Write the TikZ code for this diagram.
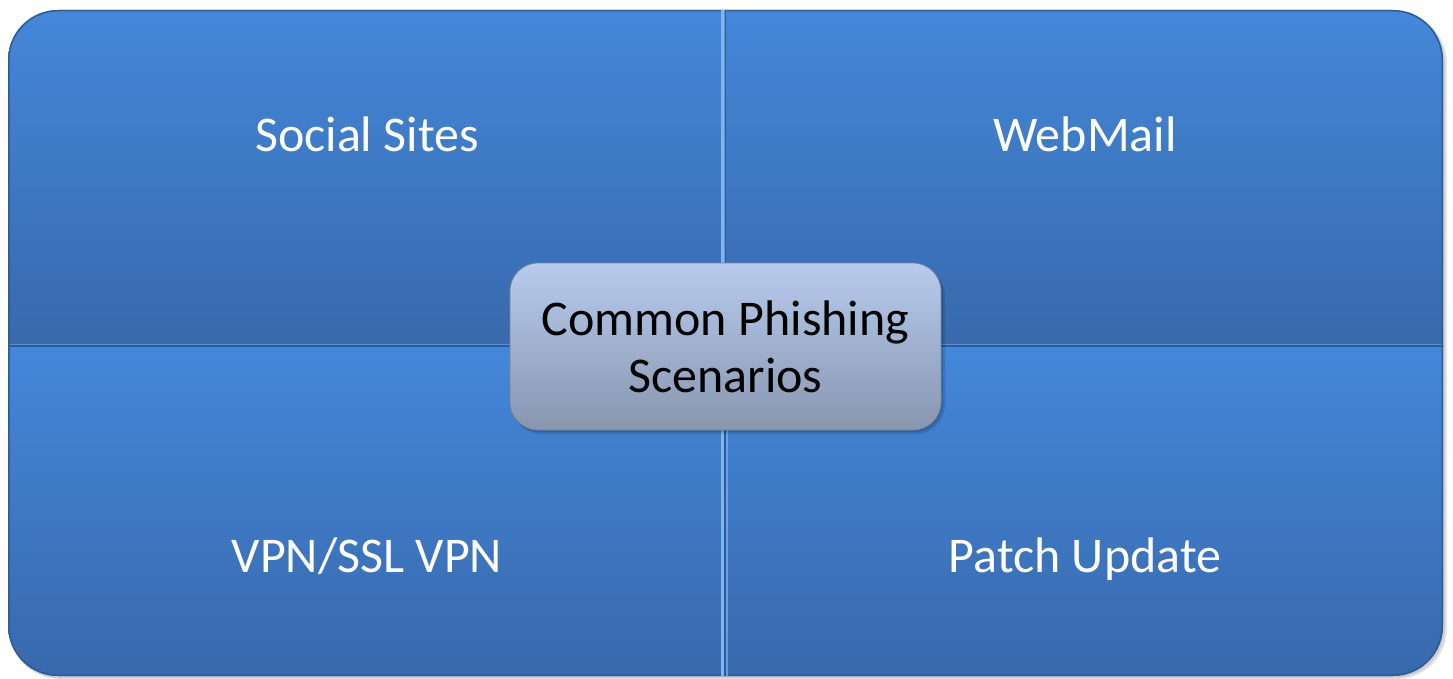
\documentclass[tikz,border=0pt]{standalone}
\usepackage{fontspec}
\setmainfont{Carlito}
\definecolor{qtop}{HTML}{4487D9}
\definecolor{qbot}{HTML}{3869AC}
\definecolor{qedge}{HTML}{2E5A96}
\definecolor{qlight}{HTML}{7DB4F2}
\definecolor{ctop}{HTML}{B7CBEE}
\definecolor{cbot}{HTML}{8896AF}
\definecolor{cedge}{HTML}{76839C}
\tikzset{
  quad/.style={rectangle, inner sep=0pt, outer sep=0pt, top color=qtop, bottom color=qbot, draw=none},
  qlabel/.style={text=white, font=\fontsize{50}{60}\selectfont, anchor=base, inner sep=0pt},
  centerbox/.style={rectangle, rounded corners=28pt, inner sep=0pt, top color=ctop, bottom color=cbot, draw=cedge, line width=0.8pt,
    minimum width=431pt, minimum height=167pt},
  ctext/.style={text=black, font=\fontsize{50}{57}\selectfont, align=center, inner sep=0pt}
}
\begin{document}
\begin{tikzpicture}[x=1pt,y=-1pt]
\useasboundingbox (0,0) rectangle (1453,679);
% outer shadow
\fill[black,opacity=0.10,rounded corners=50pt] (10,13) rectangle (1447,679);
\fill[black,opacity=0.10,rounded corners=50pt] (9,12) rectangle (1445,678);
\begin{scope}
\clip[rounded corners=50pt] (8,10) rectangle (1443,676);
\node[quad, minimum width=716pt, minimum height=336pt] (tl) at (366,178) {};
\node[quad, minimum width=721pt, minimum height=336pt] (tr) at (1083.5,178) {};
\node[quad, minimum width=716pt, minimum height=331pt] (bl) at (366,511.5) {};
\node[quad, minimum width=719pt, minimum height=331pt] (br) at (1085.5,511.5) {};
% bevel highlights
\draw[qlight,opacity=0.6,line width=2pt] (tl.north west) -- (tl.north east);
\draw[qlight,opacity=0.6,line width=2pt] (tr.north west) -- (tr.north east);
\draw[qlight,opacity=0.5,line width=2pt] ([yshift=1pt]bl.north west) -- ([yshift=1pt]bl.north east);
\draw[qlight,opacity=0.5,line width=2pt] ([yshift=1pt]br.north west) -- ([yshift=1pt]br.north east);
% outer edge darkening
\draw[qedge,line width=3pt,rounded corners=50pt] (8,10) rectangle (1443,676);
% dividers
\draw[qedge,line width=2.5pt] (tl.south west) -- (tr.south east);
\draw[qlight,line width=2.5pt] ([xshift=-1.5pt]tl.north east) -- ([xshift=-1.5pt]bl.south east);
\draw[qedge,line width=1.2pt] ([xshift=1pt]tl.north east) -- ([xshift=1pt]bl.south east);
\draw[qlight,opacity=0.7,line width=1.5pt] ([xshift=1.5pt]tr.north west) -- ([xshift=1.5pt]tr.south west);
\draw[qlight,opacity=0.7,line width=1.5pt] ([xshift=1pt]br.north west) -- ([xshift=1pt]br.south west);
\end{scope}
% labels
\node[qlabel] (t1) at (367,152) {Social Sites};
\node[qlabel] (t2) at (1085,152) {WebMail};
\node[qlabel] (t3) at (367,572) {VPN/SSL VPN};
\node[qlabel] (t4) at (1085,572) {Patch Update};
% center
\fill[black,opacity=0.12,rounded corners=29pt] (512,267) rectangle (945,434);
\fill[black,opacity=0.12,rounded corners=28pt] (511,265) rectangle (943,432);
\node[centerbox] (c) at (725.5,346.5) {};
\node[ctext] (ct) at (c.center) {Common Phishing\\Scenarios};
\end{tikzpicture}
\end{document}
